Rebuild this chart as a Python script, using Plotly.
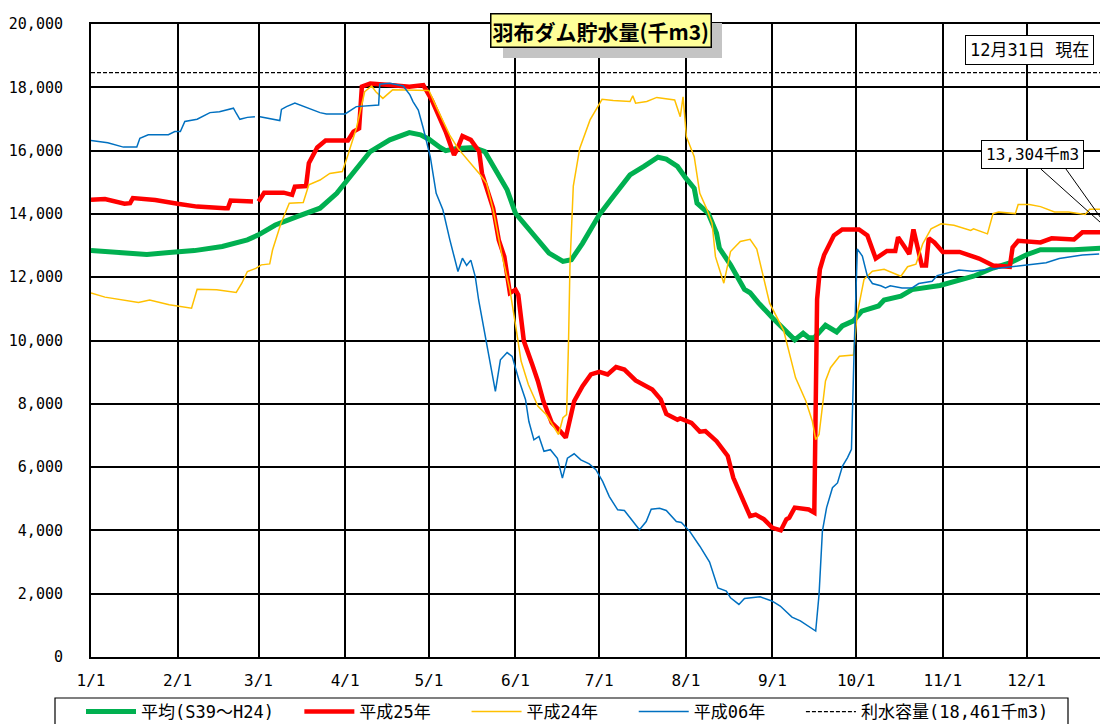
import plotly.graph_objects as go
from datetime import date

# ---------------- data ----------------
YEAR = 2012
month_labels = ["1/1", "2/1", "3/1", "4/1", "5/1", "6/1", "7/1", "8/1", "9/1", "10/1", "11/1", "12/1"]
y_ticks = [0, 2000, 4000, 6000, 8000, 10000, 12000, 14000, 16000, 18000, 20000]

capacity = 18461          # 利水容量 (千m3)
current_value = 13304     # 12/31 現在 (千m3)

# 平均(S39～H24)
avg_day = [0, 12, 20, 28, 37, 47, 56, 60, 66, 74, 82, 88, 91, 94, 100, 107, 114, 118, 121, 125,
           127, 131, 137, 141, 145, 149, 152, 156, 160, 164, 169, 172, 176, 182, 187, 193, 198,
           203, 206, 210, 213, 216, 217, 221, 224, 225, 229, 234, 236, 239, 244, 248, 252, 255,
           257, 259, 263, 267, 269, 273, 276, 282, 284, 290, 294, 304, 310, 316, 323, 329, 335,
           340, 352, 362]
avg_val = [12840, 12780, 12720, 12780, 12840, 12970, 13180, 13340, 13650, 13920, 14180, 14650,
           14970, 15280, 15970, 16340, 16570, 16500, 16360, 16100, 16000, 16070, 16100, 15970,
           15390, 14760, 14020, 13600, 13130, 12760, 12500, 12550, 13070, 13970, 14550, 15230,
           15500, 15790, 15730, 15500, 15130, 14810, 14340, 14020, 13390, 12920, 12390, 11610,
           11510, 11190, 10720, 10360, 10020, 10230, 10090, 10090, 10480, 10270, 10460, 10620,
           10930, 11090, 11280, 11400, 11610, 11740, 11870, 12030, 12290, 12450, 12710, 12870,
           12870, 12920]

# 平成25年 (no 2/29 value)
h25_day = [0, 5, 12, 14, 15, 23, 31, 38, 48, 49, 50, 58, 59, 60, 62, 69, 72, 73, 77, 78, 81, 84,
           92, 94, 96, 97, 100, 107, 114, 119, 122, 127, 130, 131, 133, 136, 139, 140, 144, 146,
           148, 150, 152, 153, 155, 158, 160, 162, 165, 168, 170, 173, 176, 179, 182, 185, 188,
           191, 195, 201, 204, 206, 210, 211, 215, 218, 220, 224, 228, 230, 232, 236, 238, 241,
           244, 247, 249, 250, 252, 257, 259, 260, 261, 262.5, 266, 269, 275, 278, 281, 285, 288,
           289, 291, 293, 294.5, 296, 297.5, 299, 300, 302, 305, 311, 316, 318, 323, 329, 330,
           332, 340, 344, 352, 355, 362]
h25_val = [14450, 14470, 14320, 14340, 14500, 14440, 14320, 14230, 14180, 14180, 14420, 14390,
           None, 14390, 14670, 14670, 14600, 14860, 14880, 15600, 16100, 16320, 16320, 16600,
           16700, 18020, 18120, 18070, 18020, 18070, 17600, 16600, 15860, 16020, 16460, 16340,
           15970, 15280, 14180, 13180, 12650, 11500, 11600, 11440, 9980, 9240, 8720, 8080, 7400,
           7140, 6930, 8080, 8560, 8930, 9010, 8930, 9160, 9080, 8740, 8450, 8140, 7680, 7500,
           7540, 7400, 7120, 7140, 6820, 6350, 5660, 5240, 4450, 4500, 4350, 4080, 4000, 4350,
           4400, 4720, 4660, 4560, 11300, 12250, 12700, 13320, 13510, 13510, 13320, 12590,
           12830, 12830, 13260, 13000, 12730, 13510, 13000, 12370, 12370, 13230, 13100, 12800,
           12800, 12670, 12590, 12370, 12330, 12940, 13150, 13100, 13230, 13190, 13420, 13420]

# 平成24年
h24_day = [0, 5, 17, 21, 28, 36, 38, 45, 52, 54, 56, 59, 61, 64, 65, 68, 71, 76, 78, 82, 85.5,
           90, 92, 95, 98, 100.5, 102, 104.5, 108, 113, 119, 121, 123.6, 128.4, 131.4, 136, 139,
           141.6, 144, 147, 150, 152, 154, 156.6, 160, 163, 167.4, 169, 170.3, 171, 171.5, 172.7,
           175, 178.7, 183, 187, 193, 194, 195, 199, 202.6, 209, 211, 212, 213.2, 216, 218,
           220.6, 222.4, 223.6, 226.6, 229, 232.5, 236, 238.4, 243, 248, 252.3, 256, 258.3,
           259.5, 260.7, 262, 263, 264.8, 268, 273, 273.5, 274.4, 276.8, 279.8, 284, 290, 292.4,
           295.4, 297.8, 300.8, 304.4, 309, 315, 316, 321, 323, 325, 331, 332, 336, 340, 345,
           350, 356, 357.6, 362]
h24_val = [11500, 11370, 11200, 11280, 11130, 11020, 11620, 11600, 11520, 11810, 12180, 12280,
           12390, 12420, 12860, 13700, 14340, 14360, 14920, 15070, 15280, 15340, 15860, 16700,
           17860, 18040, 17860, 17650, 17920, 17920, 17900, 17900, 17390, 16500, 16070, 15600,
           15280, 14970, 14130, 12760, 11600, 10500, 9350, 8610, 7930, 7660, 7030, 7560, 7660,
           9980, 12350, 14880, 16070, 16970, 17620, 17580, 17550, 17730, 17500, 17550, 17680,
           17600, 17070, 17700, 16440, 15810, 14650, 14130, 13700, 12650, 11810, 12810, 13130,
           13200, 12890, 11180, 10320, 8820, 8080, 7450, 6870, 7030, 7980, 8720, 9140, 9500,
           9540, 9980, 10860, 11930, 12190, 12250, 12030, 12330, 12410, 13050, 13530, 13690,
           13640, 13480, 13530, 13370, 14010, 14060, 14010, 14300, 14300, 14230, 14060, 14060,
           13980, 14150, 14150]

# 平成06年 (no 2/29 value)
h06_day = [0, 6, 11.6, 16.4, 17.5, 20.5, 27.7, 30, 32, 33.6, 38, 42.6, 46, 51, 52, 53.3, 56,
           58.7, 59, 60.5, 64.7, 67.6, 68.2, 70, 73, 77, 82, 84.3, 91, 95, 101, 103, 103.4, 107,
           111.8, 114.2, 115.3, 117.2, 119, 121.5, 123.6, 126, 128.5, 131.4, 133, 134.5, 136,
           137.6, 138.8, 141.2, 144.8, 146.6, 149, 150.8, 153.2, 155.6, 156.8, 158.6, 160.4,
           162.2, 164.5, 167, 168.8, 170.6, 173, 175.4, 178.4, 180.8, 183.2, 185.6, 188.6, 191,
           196.4, 198.8, 200.6, 203.6, 206, 209.6, 211.4, 214.4, 218, 221.5, 224.5, 227.5, 229,
           232, 234, 239.6, 243.8, 246.8, 251, 254, 259.5, 260.7, 261.9, 263.4, 265.5, 267.3,
           269.1, 270.9, 272.3, 273.2, 274.4, 276.2, 278, 279.8, 282.8, 284.5, 286.2, 290.4, 294,
           296.4, 301.2, 303, 307.2, 310.8, 315.6, 321.6, 327.5, 334.7, 342, 346.7, 351.5, 355,
           361]
h06_val = [16320, 16250, 16110, 16110, 16390, 16500, 16500, 16600, 16600, 16920, 16990, 17200,
           17230, 17340, 17180, 16990, 17050, 17070, None, 17070, 16990, 16950, 17300, 17390,
           17500, 17370, 17200, 17160, 17160, 17390, 17440, 17440, 18100, 18130, 18040, 17760,
           17550, 17280, 16700, 15800, 14650, 14130, 13180, 12180, 12600, 12370, 12540, 12020,
           11280, 10130, 8390, 9390, 9620, 9500, 8760, 8130, 7440, 6860, 6970, 6500, 6550, 6280,
           5650, 6280, 6420, 6230, 6100, 5920, 5550, 5070, 4650, 4630, 4020, 4280, 4670, 4700,
           4630, 4280, 4250, 3970, 3500, 3000, 2180, 2080, 1870, 1660, 1850, 1900, 1770, 1610,
           1260, 1140, 820, 1980, 3980, 4720, 5350, 5500, 6030, 6300, 6560, 9500, 12890, 12670,
           12030, 11800, 11730, 11660, 11730, 11660, 11660, 11800, 11870, 12050, 12140, 12230,
           12190, 12250, 12300, 12370, 12460, 12590, 12650, 12700, 12730]

# ---------------- derived ----------------
month_days = [(date(YEAR, int(l.split("/")[0]), 1) - date(YEAR, 1, 1)).days for l in month_labels]
year_end = (date(YEAR, 12, 31) - date(YEAR, 1, 1)).days
y_ticktext = [f"{v:,}" for v in y_ticks]

FONT = "DejaVu Sans Mono, Noto Sans CJK JP"
CJK = "Noto Sans CJK JP"
NB = "\u00a0"   # extra spacing between legend entries

fig = go.Figure()
fig.add_trace(go.Scatter(x=avg_day, y=avg_val, mode="lines", name="平均(S39～H24)" + NB * 2,
                         line=dict(color="#00b050", width=5)))
fig.add_trace(go.Scatter(x=h25_day, y=h25_val, mode="lines", name="平成25年" + NB * 3,
                         line=dict(color="#ff0000", width=4.5), connectgaps=False))
fig.add_trace(go.Scatter(x=h24_day, y=h24_val, mode="lines", name="平成24年" + NB * 3,
                         line=dict(color="#ffc000", width=1.5)))
fig.add_trace(go.Scatter(x=h06_day, y=h06_val, mode="lines", name="平成06年" + NB * 3,
                         line=dict(color="#0070c0", width=1.5), connectgaps=False))
fig.add_trace(go.Scatter(x=[0, year_end + 1], y=[capacity, capacity], mode="lines",
                         name=f"利水容量({capacity:,}千m3)",
                         line=dict(color="black", width=1.2, dash="4px,2px")))

# full-window figure; plot area at x 91..1100, y 24..657
OFF = 0
W, H = 1100, 724
ml, mr, mt, mb = 91, 0, 24, 67
pw, ph = W - ml - mr, H - mt - mb
def px(xs):
    return (xs - OFF - ml) / pw
def py(ys):
    return (OFF + H - mb - ys) / ph

x_end = 361.3

fig.update_layout(
    width=W, height=H,
    margin=dict(l=ml, r=mr, t=mt, b=mb, pad=0, autoexpand=False),
    paper_bgcolor="white", plot_bgcolor="white",
    font=dict(family=FONT, size=16, color="black"),
    showlegend=True,
    legend=dict(orientation="h", x=px(81), xanchor="left", y=py(694), yanchor="top",
                borderwidth=0, bgcolor="rgba(0,0,0,0)",
                font=dict(family=FONT, size=17), itemwidth=50, traceorder="normal"),
    xaxis=dict(range=[0, x_end], tickmode="array", tickvals=month_days, ticktext=month_labels,
               showgrid=True, gridcolor="black", gridwidth=1.5, zeroline=False,
               showline=True, linecolor="black", linewidth=2, mirror=True, automargin=False,
               ticks="", ticklabelstandoff=8, tickfont=dict(family=FONT, size=16)),
    yaxis=dict(range=[0, 20000], tickmode="array", tickvals=y_ticks, ticktext=y_ticktext,
               showgrid=True, gridcolor="black", gridwidth=1.5, zeroline=False,
               showline=True, linecolor="black", linewidth=2, mirror=False, automargin=False,
               ticks="", ticklabelstandoff=23, tickfont=dict(family=FONT, size=15)),
    hovermode=False,
)

shapes = []
# legend frame
shapes.append(dict(type="rect", xref="paper", yref="paper", x0=px(55), x1=px(1068),
                   y0=py(740), y1=py(698), fillcolor="rgba(0,0,0,0)",
                   line=dict(color="black", width=1.2), layer="below"))
# title shadow
shapes.append(dict(type="rect", xref="paper", yref="paper", x0=px(503), x1=px(722),
                   y0=py(58), y1=py(23), fillcolor="#c4c4c4", line=dict(width=0), layer="above"))
# callout wedge towards 12/31 value
tip_x, tip_y = year_end, 13450
shapes.append(dict(type="line", xref="x", yref="y", x0=340.1, y0=15420, x1=tip_x, y1=tip_y,
                   line=dict(color="black", width=1), layer="above"))
shapes.append(dict(type="line", xref="x", yref="y", x0=349.1, y0=15420, x1=tip_x, y1=tip_y,
                   line=dict(color="black", width=1), layer="above"))
fig.update_layout(shapes=shapes)

fig.add_annotation(xref="paper", yref="paper", x=px(600.5), y=py(30.5), xanchor="center",
                   yanchor="middle", text="<b>羽布ダム貯水量(千m3)</b>", showarrow=False,
                   font=dict(family=CJK, size=21, color="black"), bgcolor="#ffff99",
                   bordercolor="black", borderwidth=1.5, borderpad=1)
fig.add_annotation(xref="paper", yref="paper", x=px(1029), y=py(49.5), xanchor="center",
                   yanchor="middle", text="12月31日 現在", showarrow=False,
                   font=dict(family=FONT, size=17, color="black"), bgcolor="white",
                   bordercolor="black", borderwidth=1, borderpad=4)
fig.add_annotation(xref="paper", yref="paper", x=px(1032), y=py(154), xanchor="center",
                   yanchor="middle", text=f"{current_value:,}千m3", showarrow=False,
                   font=dict(family=FONT, size=16, color="black"), bgcolor="white",
                   bordercolor="black", borderwidth=1, borderpad=4)

fig.write_html("out.html",
               config={"displayModeBar": False},
               post_script="document.body.style.margin='0';"
                           "document.documentElement.style.overflow='hidden';")
